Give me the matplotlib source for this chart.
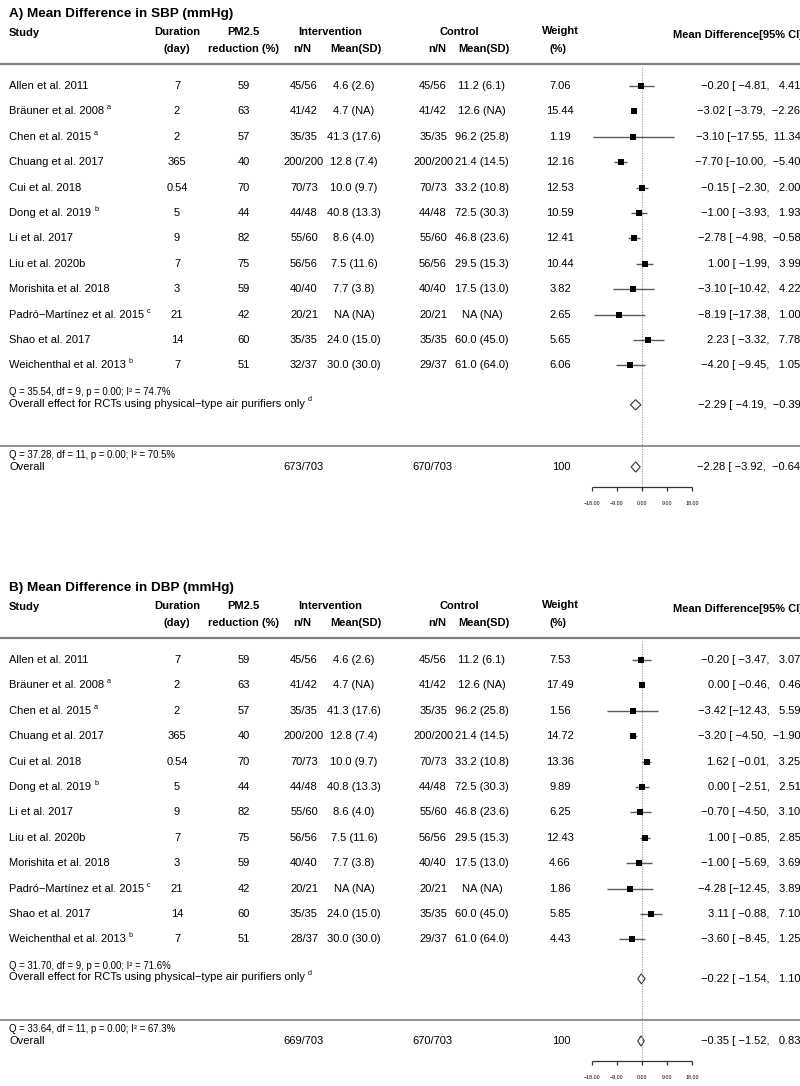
"""
Forest plots of the mean difference in SBP and DBP (air purifier RCTs).
"""

import numpy as np
import matplotlib
matplotlib.use("Agg")
import matplotlib.pyplot as plt
from matplotlib.patches import Polygon

plt.rcParams['font.family'] = ['Liberation Sans', 'DejaVu Sans']

# Study table (shared by both panels).
studies = ["Allen et al. 2011", "Bräuner et al. 2008", "Chen et al. 2015",
           "Chuang et al. 2017", "Cui et al. 2018", "Dong et al. 2019",
           "Li et al. 2017", "Liu et al. 2020b", "Morishita et al. 2018",
           "Padró−Martínez et al. 2015", "Shao et al. 2017",
           "Weichenthal et al. 2013"]
notes = ["", "a", "a", "", "", "b", "", "", "", "c", "", "b"]
duration = ["7", "2", "2", "365", "0.54", "5", "9", "7", "3", "21", "14", "7"]
pm25_reduction = [59, 63, 57, 40, 70, 44, 82, 75, 59, 42, 60, 51]
int_msd = ["4.6 (2.6)", "4.7 (NA)", "41.3 (17.6)", "12.8 (7.4)", "10.0 (9.7)",
           "40.8 (13.3)", "8.6 (4.0)", "7.5 (11.6)", "7.7 (3.8)", "NA (NA)",
           "24.0 (15.0)", "30.0 (30.0)"]
ctl_msd = ["11.2 (6.1)", "12.6 (NA)", "96.2 (25.8)", "21.4 (14.5)",
           "33.2 (10.8)", "72.5 (30.3)", "46.8 (23.6)", "29.5 (15.3)",
           "17.5 (13.0)", "NA (NA)", "60.0 (45.0)", "61.0 (64.0)"]
ctl_n = ["45/56", "41/42", "35/35", "200/200", "70/73", "44/48", "55/60",
         "56/56", "40/40", "20/21", "35/35", "29/37"]

# Panel A: SBP
sbp_int_n = ["45/56", "41/42", "35/35", "200/200", "70/73", "44/48", "55/60",
             "56/56", "40/40", "20/21", "35/35", "32/37"]
sbp_weight = [7.06, 15.44, 1.19, 12.16, 12.53, 10.59, 12.41, 10.44, 3.82,
              2.65, 5.65, 6.06]
sbp_est = [-0.20, -3.02, -3.10, -7.70, -0.15, -1.00, -2.78, 1.00, -3.10,
           -8.19, 2.23, -4.20]
sbp_lo = [-4.81, -3.79, -17.55, -10.00, -2.30, -3.93, -4.98, -1.99, -10.42,
          -17.38, -3.32, -9.45]
sbp_hi = [4.41, -2.26, 11.34, -5.40, 2.00, 1.93, -0.58, 3.99, 4.22, 1.00,
          7.78, 1.05]
sbp_sub = (-2.29, -4.19, -0.39)
sbp_all = (-2.28, -3.92, -0.64)
sbp_q_sub = (35.54, 9, 0.00, 74.7)
sbp_q_all = (37.28, 11, 0.00, 70.5)
sbp_totals = ("673/703", "670/703", "100")

# Panel B: DBP
dbp_int_n = ["45/56", "41/42", "35/35", "200/200", "70/73", "44/48", "55/60",
             "56/56", "40/40", "20/21", "35/35", "28/37"]
dbp_weight = [7.53, 17.49, 1.56, 14.72, 13.36, 9.89, 6.25, 12.43, 4.66,
              1.86, 5.85, 4.43]
dbp_est = [-0.20, 0.00, -3.42, -3.20, 1.62, 0.00, -0.70, 1.00, -1.00,
           -4.28, 3.11, -3.60]
dbp_lo = [-3.47, -0.46, -12.43, -4.50, -0.01, -2.51, -4.50, -0.85, -5.69,
          -12.45, -0.88, -8.45]
dbp_hi = [3.07, 0.46, 5.59, -1.90, 3.25, 2.51, 3.10, 2.85, 3.69, 3.89,
          7.10, 1.25]
dbp_sub = (-0.22, -1.54, 1.10)
dbp_all = (-0.35, -1.52, 0.83)
dbp_q_sub = (31.70, 9, 0.00, 71.6)
dbp_q_all = (33.64, 11, 0.00, 67.3)
dbp_totals = ("669/703", "670/703", "100")

ticks = [-18, -9, 0, 9, 18]

# Layout (pixels of an 800 px wide figure, rows of 25.4 px).
W, H = 800, 1086
ROW_PX, FIRST_PX, PANEL_PX = 25.4, 86, 575
ZERO_PX, UNITS_PER_PX = 642, 0.36


def px(x):
    return x / W


def fmt_ci(e, l, h):
    s = f"{e:.2f} [{l:6.2f}, {h:6.2f}]"
    return s.replace("-", "−")


def fmt_q(q):
    return f"Q = {q[0]:.2f}, df = {q[1]}, p = {q[2]:.2f}; I² = {q[3]:.1f}%"


def sup(ax, txt, note):
    # small raised footnote letter after a text
    ax.annotate(note, xy=(1, 1), xycoords=txt, xytext=(2.2, 1.5),
                textcoords='offset points', fontsize=5.2, ha='left', va='top')


def draw_panel(ax, title, int_n, weight, est, lo, hi, sub, tot, q_sub, q_all,
               totals):
    ax.set_xlim(-ZERO_PX * UNITS_PER_PX, (W - ZERO_PX) * UNITS_PER_PX)
    top = 1 - FIRST_PX / ROW_PX
    ax.set_ylim(top + PANEL_PX / ROW_PX, top)
    ax.axis('off')
    tr = ax.get_yaxis_transform()
    rows = np.arange(1, len(studies) + 1)

    # Title and headers
    ax.text(px(9), -1.85, title, transform=tr, fontsize=9.7,
            fontweight='bold', va='center')
    hb = dict(transform=tr, fontsize=8, fontweight='bold', va='center')
    ax.text(px(9), -1.1, "Study", ha='left', **hb)
    ax.text(px(177), -1.12, "Duration", ha='center', **hb)
    ax.text(px(177), -0.47, "(day)", ha='center', **hb)
    ax.text(px(243), -1.12, "PM2.5", ha='center', **hb)
    ax.text(px(243), -0.47, "reduction (%)", ha='center', **hb)
    ax.text(px(330), -1.12, "Intervention", ha='center', **hb)
    ax.text(px(302), -0.45, "n/N", ha='center', **hb)
    ax.text(px(356), -0.47, "Mean(SD)", ha='center', **hb)
    ax.text(px(459), -1.12, "Control", ha='center', **hb)
    ax.text(px(437), -0.45, "n/N", ha='center', **hb)
    ax.text(px(484), -0.47, "Mean(SD)", ha='center', **hb)
    ax.text(px(560), -1.18, "Weight", ha='center', **hb)
    ax.text(px(558), -0.47, "(%)", ha='center', **hb)
    ax.text(px(673), -0.99, "Mean Difference[95% CI]", ha='left', **hb)

    ax.axhline(0.15, color='#7f7f7f', lw=1.6)
    ax.axhline(15.17, color='#7f7f7f', lw=1.2)

    # Table rows
    tb = dict(transform=tr, fontsize=8, va='center')
    for i, r in enumerate(rows):
        t = ax.text(px(9), r, studies[i], ha='left', **tb)
        if notes[i]:
            sup(ax, t, notes[i])
        ax.text(px(177), r, duration[i], ha='center', **tb)
        ax.text(px(244), r, str(pm25_reduction[i]), ha='center', **tb)
        ax.text(px(304), r, int_n[i], ha='center', **tb)
        ax.text(px(354), r, int_msd[i], ha='center', **tb)
        ax.text(px(433), r, ctl_n[i], ha='center', **tb)
        ax.text(px(482), r, ctl_msd[i], ha='center', **tb)
        ax.text(px(560), r, f"{weight[i]:.2f}", ha='center', **tb)
        ax.text(px(803.5), r, fmt_ci(est[i], lo[i], hi[i]), ha='right', **tb)

    # Reference line at zero
    ax.vlines(0, 0.25, 16.77, color='#999999', lw=0.8,
              linestyles=(0, (1, 1.2)))

    # Study estimates
    ax.hlines(rows, lo, hi, color='#5a5a5a', lw=1)
    ax.plot(est, rows, 's', color='black', ms=4.1, mew=0)

    def diamond(y, e, l, h):
        ax.add_patch(Polygon([(l, y), (e, y - 0.2), (h, y), (e, y + 0.2)],
                             closed=True, facecolor='white',
                             edgecolor='#333333', lw=0.8))
        ax.text(px(803.5), y, fmt_ci(e, l, h), ha='right', **tb)

    # Subgroup (physical-type purifiers)
    ax.text(px(9), 13.03, fmt_q(q_sub), transform=tr, fontsize=6.9,
            va='center')
    t = ax.text(px(9), 13.5,
                "Overall effect for RCTs using physical−type air purifiers only",
                ha='left', **tb)
    sup(ax, t, "d")
    diamond(13.55, *sub)

    # Overall
    ax.text(px(9), 15.53, fmt_q(q_all), transform=tr, fontsize=6.9,
            va='center')
    ax.text(px(9), 16.0, "Overall", ha='left', **tb)
    ax.text(px(304), 16.0, totals[0], ha='center', **tb)
    ax.text(px(432), 16.0, totals[1], ha='center', **tb)
    ax.text(px(561), 16.0, totals[2], ha='center', **tb)
    diamond(16.0, *tot)

    # x axis
    ax.hlines(16.77, ticks[0], ticks[-1], color='#333333', lw=0.9)
    ax.vlines(ticks, 16.77, 16.93, color='#333333', lw=0.9)
    for t in ticks:
        ax.text(t, 17.45, f"{t:.2f}".replace("-", "−"), ha='center',
                va='center', fontsize=3.8)


fig = plt.figure(figsize=(W / 100, H / 100), dpi=100)
ph = PANEL_PX / H
axA = fig.add_axes([0, 1 - ph, 1, ph])
axB = fig.add_axes([0, 1 - 574 / H - ph, 1, ph])

draw_panel(axA, "A) Mean Difference in SBP (mmHg)", sbp_int_n, sbp_weight,
           sbp_est, sbp_lo, sbp_hi, sbp_sub, sbp_all, sbp_q_sub, sbp_q_all,
           sbp_totals)
draw_panel(axB, "B) Mean Difference in DBP (mmHg)", dbp_int_n, dbp_weight,
           dbp_est, dbp_lo, dbp_hi, dbp_sub, dbp_all, dbp_q_sub, dbp_q_all,
           dbp_totals)

fig.savefig("out.png", dpi=100)
